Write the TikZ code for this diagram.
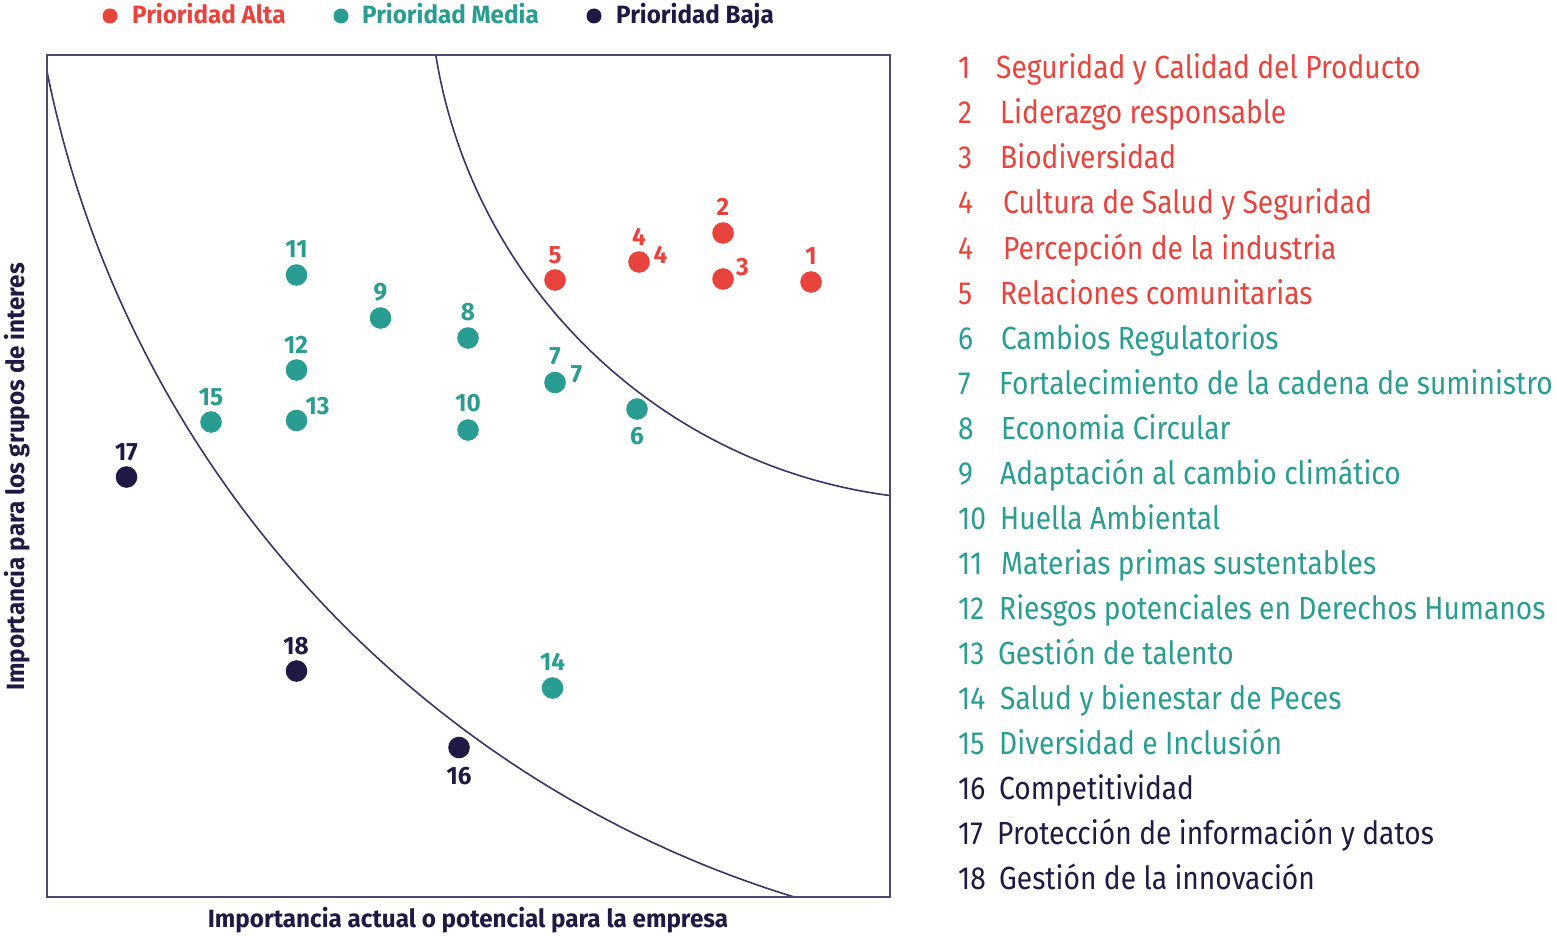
\documentclass[tikz,border=0pt]{standalone}
\usepackage{fontspec}
\setmainfont[FakeStretch=0.88]{Fira Sans}
\newfontfamily\boldfam[FakeStretch=0.97]{Fira Sans}
\definecolor{altac}{HTML}{E8433D}
\definecolor{mediac}{HTML}{2A9D92}
\definecolor{bajac}{HTML}{1F1944}
\definecolor{framec}{HTML}{4D4873}
\definecolor{curvec}{HTML}{3A3562}
\begin{document}
\begin{tikzpicture}[x=1pt,y=-1pt,
  frameline/.style={draw=framec,line width=2pt},
  curveline/.style={draw=curvec,line width=1.6pt},
  dot/.style={circle,inner sep=0pt,minimum size=21.6pt},
  hdot/.style={circle,inner sep=0pt,minimum size=15pt},
  lab/.style={inner sep=0pt,font=\boldfam\fontsize{25}{30}\selectfont\bfseries},
  head/.style={inner sep=0pt,anchor=base west,font=\boldfam\fontsize{25}{30}\selectfont\bfseries},
  num/.style={inner sep=0pt,anchor=base west,font=\fontsize{32}{38}\selectfont},
  item/.style={inner sep=0pt,anchor=base west,font=\fontsize{32}{38}\selectfont},
  axis/.style={inner sep=0pt,text=bajac,font=\boldfam\fontsize{25}{30}\selectfont\bfseries}]
\useasboundingbox (0,0) rectangle (1557,936);
\fill[white] (0,0) rectangle (1557,936);
% header legend
\node[hdot,fill=altac] (ha) at (110,16) {};
\node[head,text=altac] (hat) at (132,24) {Prioridad Alta};
\node[hdot,fill=mediac] (hm) at (341,16) {};
\node[head,text=mediac] (hmt) at (362,24) {Prioridad Media};
\node[hdot,fill=bajac] (hb) at (594,16) {};
\node[head,text=bajac] (hbt) at (616,24) {Prioridad Baja};
% curves
\begin{scope}
\clip (47,55) rectangle (890,897);
\draw[curveline] (1113,-142.5) circle[radius=1087pt];
\draw[curveline] (959,-30) circle[radius=530pt];
\end{scope}
\draw[frameline] (47,55) rectangle (890,897);
% axis labels
\node[axis,anchor=base] (xl) at (468,927) {Importancia actual o potencial para la empresa};
\node[axis,rotate=90] (yl) at (17,477) {Importancia para los grupos de interes};
% dots
\node[dot,fill=altac] (d1) at (811,282) {};
\node[dot,fill=altac] (d2) at (723,233) {};
\node[dot,fill=altac] (d3) at (723,279) {};
\node[dot,fill=altac] (d4) at (639,262) {};
\node[dot,fill=altac] (d5) at (555,280) {};
\node[dot,fill=mediac] (d6) at (637,409) {};
\node[dot,fill=mediac] (d7) at (555,382.5) {};
\node[dot,fill=mediac] (d8) at (468,338) {};
\node[dot,fill=mediac] (d9) at (380.5,318) {};
\node[dot,fill=mediac] (d10) at (468,430) {};
\node[dot,fill=mediac] (d11) at (296.5,275) {};
\node[dot,fill=mediac] (d12) at (296.5,370) {};
\node[dot,fill=mediac] (d13) at (296.5,420.5) {};
\node[dot,fill=mediac] (d14) at (552.5,688) {};
\node[dot,fill=mediac] (d15) at (211,422) {};
\node[dot,fill=bajac] (d16) at (459,747.5) {};
\node[dot,fill=bajac] (d17) at (126.5,477) {};
\node[dot,fill=bajac] (d18) at (296.5,671) {};
% dot labels
\node[lab,text=altac] (l1) at (811,256.5) {1};
\node[lab,text=altac] (l2) at (723,207) {2};
\node[lab,text=altac] (l3) at (742.5,267.5) {3};
\node[lab,text=altac] (l4a) at (639,237) {4};
\node[lab,text=altac] (l4b) at (660.5,255) {4};
\node[lab,text=altac] (l5) at (555,255) {5};
\node[lab,text=mediac] (l6) at (637,436) {6};
\node[lab,text=mediac] (l7a) at (555,356.5) {7};
\node[lab,text=mediac] (l7b) at (576.5,374) {7};
\node[lab,text=mediac] (l8) at (468,312.5) {8};
\node[lab,text=mediac] (l9) at (380.5,292.5) {9};
\node[lab,text=mediac] (l10) at (468,403.5) {10};
\node[lab,text=mediac] (l11) at (296.5,249) {11};
\node[lab,text=mediac] (l12) at (296,345) {12};
\node[lab,text=mediac] (l13) at (317.5,406.5) {13};
\node[lab,text=mediac] (l14) at (552.5,661.5) {14};
\node[lab,text=mediac] (l15) at (211,397) {15};
\node[lab,text=bajac] (l16) at (459,776) {16};
\node[lab,text=bajac] (l17) at (126.5,452) {17};
\node[lab,text=bajac] (l18) at (296,646) {18};
% legend list
\node[num,text=altac] (n1) at (958,79) {1};
\node[item,text=altac] (t1) at (996,79) {Seguridad y Calidad del Producto};
\node[num,text=altac] (n2) at (958,124) {2};
\node[item,text=altac] (t2) at (1000,124) {Liderazgo responsable};
\node[num,text=altac] (n3) at (958,169) {3};
\node[item,text=altac] (t3) at (1000,169) {Biodiversidad};
\node[num,text=altac] (n4) at (958,214) {4};
\node[item,text=altac] (t4) at (1003,214) {Cultura de Salud y Seguridad};
\node[num,text=altac] (n4b) at (958,259) {4};
\node[item,text=altac] (t4b) at (1003,259) {Percepción de la industria};
\node[num,text=altac] (n5) at (958,304) {5};
\node[item,text=altac] (t5) at (1000,304) {Relaciones comunitarias};
\node[num,text=mediac] (n6) at (958,349) {6};
\node[item,text=mediac] (t6) at (1001,349) {Cambios Regulatorios};
\node[num,text=mediac] (n7) at (958,394) {7};
\node[item,text=mediac] (t7) at (999,394) {Fortalecimiento de la cadena de suministro};
\node[num,text=mediac] (n8) at (958,439) {8};
\node[item,text=mediac] (t8) at (1001,439) {Economia Circular};
\node[num,text=mediac] (n9) at (958,484) {9};
\node[item,text=mediac] (t9) at (1000,484) {Adaptación al cambio climático};
\node[num,text=mediac] (n10) at (958,529) {10};
\node[item,text=mediac] (t10) at (1000,529) {Huella Ambiental};
\node[num,text=mediac] (n11) at (958,574) {11};
\node[item,text=mediac] (t11) at (1001,574) {Materias primas sustentables};
\node[num,text=mediac] (n12) at (958,619) {12};
\node[item,text=mediac] (t12) at (999,619) {Riesgos potenciales en Derechos Humanos};
\node[num,text=mediac] (n13) at (958,664) {13};
\node[item,text=mediac] (t13) at (998,664) {Gestión de talento};
\node[num,text=mediac] (n14) at (958,709) {14};
\node[item,text=mediac] (t14) at (1000,709) {Salud y bienestar de Peces};
\node[num,text=mediac] (n15) at (958,754) {15};
\node[item,text=mediac] (t15) at (999,754) {Diversidad e Inclusión};
\node[num,text=bajac] (n16) at (958,799) {16};
\node[item,text=bajac] (t16) at (999,799) {Competitividad};
\node[num,text=bajac] (n17) at (958,844) {17};
\node[item,text=bajac] (t17) at (997,844) {Protección de información y datos};
\node[num,text=bajac] (n18) at (958,889) {18};
\node[item,text=bajac] (t18) at (999,889) {Gestión de la innovación};
\end{tikzpicture}
\end{document}
